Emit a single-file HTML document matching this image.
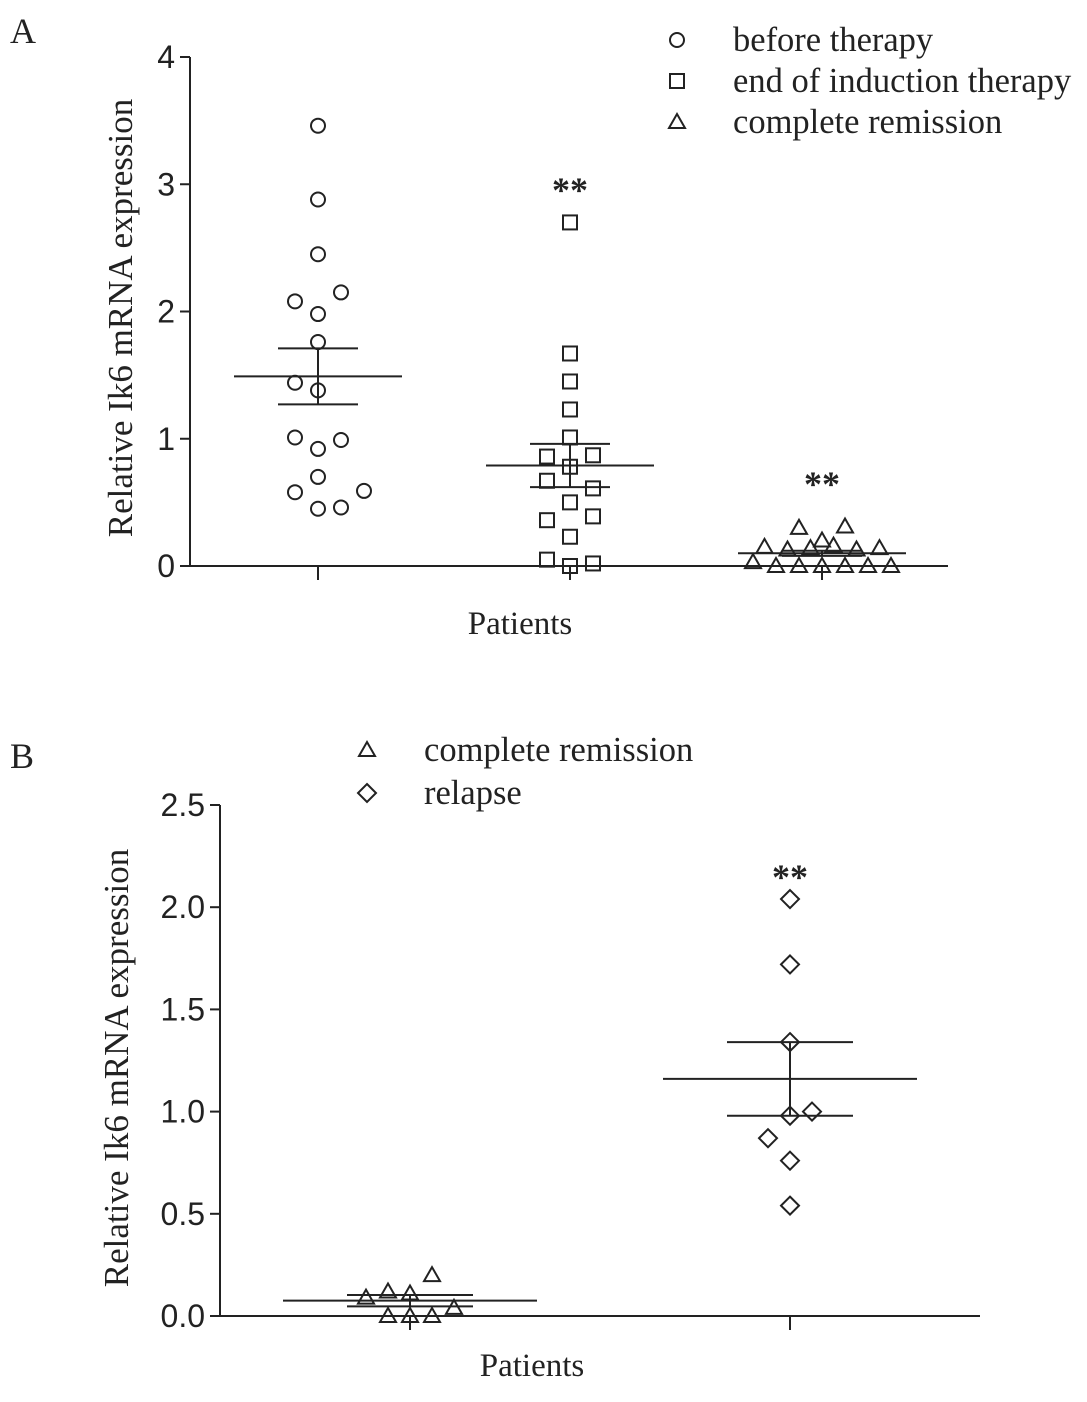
<!DOCTYPE html>
<html><head><meta charset="utf-8"><style>
html,body{margin:0;padding:0;background:#fff}
svg{display:block}
.ser{font-family:"Liberation Serif",serif}
.san{font-family:"Liberation Sans",sans-serif}
</style></head><body>
<svg id="c" width="1087" height="1402" viewBox="0 0 1087 1402"></svg>
<script>
// ---------- Panel A data ----------
const aCategories = ["before therapy","end of induction therapy","complete remission"];
const aTicks = [0,1,2,3,4];
const aBefore = [3.46,2.88,2.45,2.08,2.15,1.98,1.76,1.44,1.38,1.01,0.99,0.92,0.70,0.58,0.59,0.45,0.46];
const aBeforeCol = [0,0,0,-1,1,0,0,-1,0,-1,1,0,0,-1,2,0,1];
const aEnd = [2.70,1.67,1.45,1.23,1.01,0.86,0.87,0.78,0.67,0.61,0.50,0.36,0.39,0.23,0.05,0.00,0.02];
const aEndCol = [0,0,0,0,0,-1,1,0,-1,1,0,-1,1,0,-1,0,1];
const aCR = [0.30,0.31,0.15,0.13,0.14,0.20,0.16,0.13,0.14,0.03,0,0,0,0,0,0];
const aCRCol = [-1,1,-2.5,-1.5,-0.5,0,0.5,1.5,2.5,-3,-2,-1,0,1,2,3];
const aMean = [1.49,0.79,0.10];
const aSem = [0.22,0.17,0.02];
// ---------- Panel B data ----------
const bCategories = ["complete remission","relapse"];
const bTicks = [0,0.5,1.0,1.5,2.0,2.5];
const bCR = [0.09,0.12,0.11,0.20,0.04,0,0,0];
const bCRCol = [-2,-1,0,1,2,-1,0,1];
const bRel = [2.04,1.72,1.34,0.98,1.00,0.87,0.76,0.54];
const bRelCol = [0,0,0,0,1,-1,0,0];
const bMean = [0.075,1.16];
const bSem = [0.028,0.18];

const NS="http://www.w3.org/2000/svg";
const svg=document.getElementById('c');
function el(tag,attrs,parent,text){const e=document.createElementNS(NS,tag);for(const k in attrs)e.setAttribute(k,attrs[k]);if(text!==undefined)e.textContent=text;(parent||svg).appendChild(e);return e;}
const S={stroke:"#222","stroke-width":2,fill:"none"};

function marker(g,type,x,y){
  let m;
  if(type==="circle") m=el("circle",{cx:x,cy:y,r:7,...S},g);
  else if(type==="square") m=el("rect",{x:x-7,y:y-7,width:14,height:14,...S},g);
  else if(type==="triangle") m=el("polygon",{points:`${x},${y-8} ${x+8},${y+6} ${x-8},${y+6}`,...S},g);
  else m=el("polygon",{points:`${x},${y-9} ${x+9},${y} ${x},${y+9} ${x-9},${y}`,...S},g);
  
  
  return m;
}

function panel(o){
  const y=v=>o.y0-(v-o.vmin)/(o.vmax-o.vmin)*(o.y0-o.y1);
  const g=el("g",{});  
  const ax=el("g",{},g);  
  el("line",{x1:o.ax,y1:o.y0,x2:o.ax,y2:o.y1,...S},ax);
  o.ticks.forEach((t,i)=>{
    el("line",{x1:o.ax-10,y1:y(t),x2:o.ax,y2:y(t),...S},ax);
    const tl=el("text",{x:o.ax-15,y:y(t)+11,"text-anchor":"end","font-size":32,class:"san",fill:"#222"},ax,o.tickLabels[i]);
     
  });
  const xa=el("line",{x1:o.ax,y1:o.y0,x2:o.xEnd,y2:o.y0,...S},g);
   
  o.groups.forEach((gr,gi)=>{
    const cx=o.centers[gi];
    el("line",{x1:cx,y1:o.y0,x2:cx,y2:o.y0+14,...S},g);
    const sg=el("g",{},g);  
    gr.vals.forEach((v,i)=>marker(sg,gr.type,cx+gr.cols[i]*o.dx,y(v)));
    const m=o.mean[gi], s=o.sem[gi];
    el("line",{x1:cx-o.mw,y1:y(m),x2:cx+o.mw,y2:y(m),...S},sg);
    el("line",{x1:cx-o.sw,y1:y(m+s),x2:cx+o.sw,y2:y(m+s),...S},sg);
    el("line",{x1:cx-o.sw,y1:y(m-s),x2:cx+o.sw,y2:y(m-s),...S},sg);
    el("line",{x1:cx,y1:y(m+s),x2:cx,y2:y(m-s),...S},sg);
    if(gr.star){const st=el("text",{x:cx,y:y(gr.starV),"text-anchor":"middle","font-size":36,class:"ser","font-weight":"bold",fill:"#222"},sg,"**");
       }
  });
  const yt=el("text",{transform:`translate(${o.ytx},${o.yty}) rotate(-90)`,"text-anchor":"middle","font-size":35,class:"ser",fill:"#222"},g,"Relative Ik6 mRNA expression");
   
  const xt=el("text",{x:o.xtx,y:o.xty,"text-anchor":"middle","font-size":33,class:"ser",fill:"#222"},g,"Patients");
   
  const lt=el("text",{x:o.lx,y:o.ly,"font-size":36,class:"ser",fill:"#222"},g,o.letter);
   
  o.legend.forEach((L,i)=>{
    const lg=el("g",{},g);  
    const yy=o.legY+i*o.legDy;
    marker(lg,L.type,o.legMX,yy);
    el("text",{x:o.legTX,y:yy+11,"font-size":34.5,class:"ser",fill:"#222"},lg,L.label);
  });
}

panel({name:"panel-a",letter:"A",lx:10,ly:43,ax:190,y0:566,y1:57,vmin:0,vmax:4,xEnd:948,
  ticks:aTicks,tickLabels:aTicks.map(String),centers:[318,570,822],dx:23,mw:84,sw:40,
  mean:aMean,sem:aSem,
  groups:[{key:"before",type:"circle",vals:aBefore,cols:aBeforeCol},
          {key:"end",type:"square",vals:aEnd,cols:aEndCol,star:true,starV:2.86},
          {key:"cr",type:"triangle",vals:aCR,cols:aCRCol,star:true,starV:0.55}],
  ytx:132,yty:318,xtx:520,xty:634,
  legend:[{type:"circle",label:aCategories[0]},{type:"square",label:aCategories[1]},{type:"triangle",label:aCategories[2]}],
  legY:40,legDy:41,legMX:677,legTX:733});

panel({name:"panel-b",letter:"B",lx:10,ly:768,ax:220,y0:1316,y1:805,vmin:0,vmax:2.5,xEnd:980,
  ticks:bTicks,tickLabels:bTicks.map(t=>t.toFixed(1)),centers:[410,790],dx:22,mw:127,sw:63,
  mean:bMean,sem:bSem,
  groups:[{key:"cr",type:"triangle",vals:bCR,cols:bCRCol},
          {key:"relapse",type:"diamond",vals:bRel,cols:bRelCol,star:true,starV:2.09}],
  ytx:128,yty:1068,xtx:532,xty:1376,
  legend:[{type:"triangle",label:bCategories[0]},{type:"diamond",label:bCategories[1]}],
  legY:750,legDy:43,legMX:367,legTX:424});
</script>
</body></html>
